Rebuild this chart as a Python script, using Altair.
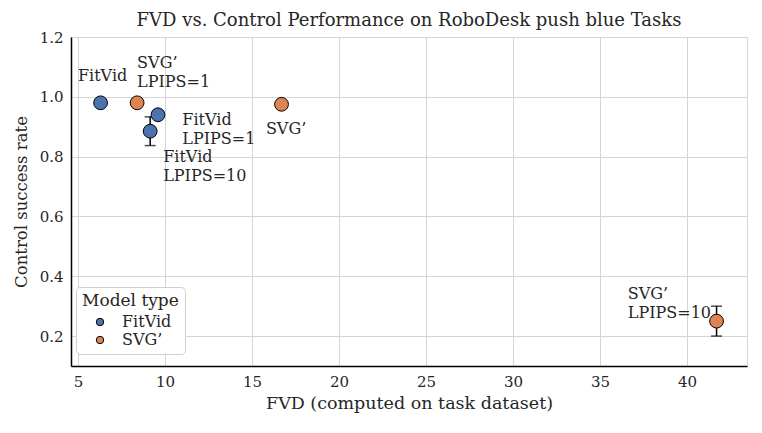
import altair as alt
import pandas as pd

# Data
names = ["FitVid", "SVG’ LPIPS=1", "FitVid LPIPS=1", "FitVid LPIPS=10", "SVG’", "SVG’ LPIPS=10"]
model_type = ["FitVid", "SVG’", "FitVid", "FitVid", "SVG’", "SVG’"]
fvd = [6.3, 8.4, 9.6, 9.15, 16.7, 41.7]
success = [0.98, 0.98, 0.94, 0.885, 0.975, 0.25]
err = [0.0, 0.0, 0.0, 0.048, 0.0, 0.05]

# annotation texts and their anchor positions (data coordinates, left / first baseline)
label_text = ["FitVid", "SVG’\nLPIPS=1", "FitVid\nLPIPS=1", "FitVid\nLPIPS=10", "SVG’", "SVG’\nLPIPS=10"]
label_x = [5.0, 8.4, 11.0, 9.9, 15.8, 36.6]
label_y = [1.053, 1.097, 0.907, 0.783, 0.877, 0.323]

df = pd.DataFrame({
    "name": names, "Model type": model_type, "fvd": fvd, "success": success, "err": err,
})
df["lo"] = df["success"] - df["err"]
df["hi"] = df["success"] + df["err"]
lab = pd.DataFrame({"text": label_text, "lx": label_x, "ly": label_y})

FONT = "DejaVu Serif"
xscale = alt.Scale(domain=[4.6, 43.45], nice=False, zero=False)
yscale = alt.Scale(domain=[0.1, 1.2], nice=False, zero=False)

xenc = alt.X("fvd:Q", scale=xscale,
             axis=alt.Axis(title="FVD (computed on task dataset)", values=[5, 10, 15, 20, 25, 30, 35, 40]))
yenc = alt.Y("success:Q", scale=yscale,
             axis=alt.Axis(title="Control success rate", values=[0.2, 0.4, 0.6, 0.8, 1.0, 1.2], format=".1f"))

base = alt.Chart(df)
errdf = df[df["err"] > 0]
rules = alt.Chart(errdf).mark_rule(color="black", strokeWidth=1.5).encode(
    x=alt.X("fvd:Q", scale=xscale), y=alt.Y("lo:Q", scale=yscale), y2="hi:Q")
caps_lo = alt.Chart(errdf).mark_tick(color="black", orient="horizontal", size=11, thickness=1.5).encode(
    x=alt.X("fvd:Q", scale=xscale), y=alt.Y("lo:Q", scale=yscale))
caps_hi = alt.Chart(errdf).mark_tick(color="black", orient="horizontal", size=11, thickness=1.5).encode(
    x=alt.X("fvd:Q", scale=xscale), y=alt.Y("hi:Q", scale=yscale))

points = base.mark_point(filled=True, size=190, stroke="black", strokeWidth=1, opacity=1).encode(
    x=xenc, y=yenc,
    color=alt.Color("Model type:N",
                    scale=alt.Scale(domain=["FitVid", "SVG’"], range=["#4c72b0", "#dd8452"]),
                    legend=alt.Legend(orient="none", legendX=5, legendY=250, title="Model type",
                                      symbolType="circle", symbolSize=55, symbolStrokeColor="black",
                                      symbolStrokeWidth=1,
                                      fillColor="white", strokeColor="#d0d0d0", cornerRadius=4,
                                      padding=6, titleFont=FONT, titleFontSize=17, titleFontWeight="normal",
                                      titleColor="#262626", labelFont=FONT, labelFontSize=16,
                                      labelColor="#262626", rowPadding=2, labelOffset=14,
                                      titlePadding=4, symbolOffset=10)),
)

texts = alt.Chart(lab).mark_text(align="left", baseline="alphabetic", font=FONT, fontSize=16,
                                 color="#262626", lineBreak="\n", lineHeight=19).encode(
    x=alt.X("lx:Q", scale=xscale), y=alt.Y("ly:Q", scale=yscale), text="text:N")

chart = alt.layer(rules, caps_lo, caps_hi, points, texts).properties(
    width=676, height=329,
    title=alt.TitleParams("FVD vs. Control Performance on RoboDesk push blue Tasks",
                          font=FONT, fontSize=18, fontWeight="normal", color="#262626", offset=0),
    padding={"left": 5, "top": 4, "right": 5, "bottom": 5},
).configure_view(stroke="#d5d5d5", strokeWidth=1).configure_axis(
    labelFont=FONT, labelFontSize=15, labelColor="#262626",
    titleFont=FONT, titleFontWeight="normal", titleColor="#262626",
    grid=True, gridColor="#d5d5d5", gridWidth=1, ticks=False, labelPadding=8,
    domainColor="black", domainWidth=1.5,
).configure_axisX(titlePadding=5, titleFontSize=17.5).configure_axisY(titlePadding=10, titleFontSize=16.5)

chart.save("out.html", embed_options={"renderer": "svg", "actions": False})
